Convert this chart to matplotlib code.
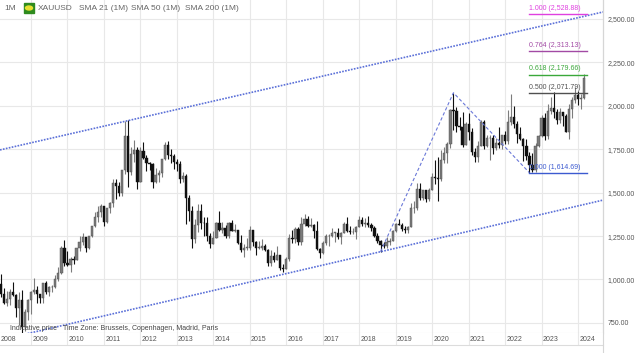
import matplotlib.pyplot as plt
import matplotlib.patches as mpatches
from matplotlib.lines import Line2D
import pandas as pd

plt.rcParams['font.family'] = ['Liberation Sans', 'DejaVu Sans']

# monthly XAUUSD candles, Jan 2008 .. Mar 2024 (one row per year)
opens = [
    834, 924, 972, 916, 864, 886, 928, 913, 834, 880, 724, 815,
    884, 928, 942, 917, 891, 979, 927, 955, 955, 1001, 1040, 1182,
    1097, 1083, 1119, 1113, 1180, 1213, 1244, 1181, 1248, 1307, 1357, 1386,
    1421, 1333, 1410, 1439, 1556, 1536, 1500, 1628, 1826, 1620, 1722, 1746,
    1564, 1737, 1697, 1669, 1664, 1561, 1604, 1614, 1691, 1773, 1719, 1713,
    1675, 1663, 1578, 1595, 1472, 1393, 1234, 1313, 1396, 1326, 1323, 1250,
    1202, 1240, 1326, 1284, 1296, 1250, 1327, 1282, 1287, 1210, 1171, 1182,
    1184, 1283, 1213, 1183, 1184, 1190, 1172, 1095, 1135, 1115, 1142, 1065,
    1061, 1118, 1238, 1234, 1293, 1215, 1322, 1351, 1309, 1316, 1277, 1173,
    1151, 1211, 1249, 1249, 1268, 1268, 1242, 1269, 1322, 1280, 1271, 1275,
    1303, 1345, 1318, 1325, 1315, 1299, 1253, 1224, 1201, 1192, 1215, 1222,
    1282, 1321, 1313, 1292, 1284, 1305, 1409, 1414, 1520, 1472, 1513, 1464,
    1517, 1589, 1585, 1577, 1687, 1730, 1781, 1975, 1968, 1886, 1879, 1776,
    1895, 1848, 1734, 1708, 1769, 1907, 1770, 1814, 1814, 1757, 1783, 1775,
    1829, 1797, 1909, 1937, 1897, 1838, 1807, 1766, 1711, 1660, 1633, 1768,
    1824, 1928, 1827, 1969, 1990, 1962, 1919, 1965, 1940, 1849, 1983, 2036,
    2063, 2039, 2044,
]
highs = [
    934, 975, 1032, 949, 936, 946, 988, 918, 930, 937, 830, 885,
    932, 1007, 962, 917, 980, 990, 960, 966, 1025, 1071, 1195, 1227,
    1162, 1128, 1136, 1181, 1249, 1265, 1244, 1250, 1310, 1388, 1424, 1432,
    1424, 1412, 1447, 1576, 1577, 1561, 1632, 1913, 1921, 1764, 1803, 1764,
    1764, 1791, 1719, 1677, 1668, 1641, 1630, 1692, 1790, 1796, 1754, 1723,
    1694, 1684, 1617, 1606, 1488, 1424, 1348, 1433, 1434, 1361, 1362, 1267,
    1280, 1332, 1392, 1331, 1315, 1332, 1345, 1322, 1287, 1255, 1206, 1238,
    1307, 1285, 1220, 1224, 1232, 1205, 1175, 1170, 1157, 1191, 1142, 1088,
    1128, 1263, 1283, 1304, 1304, 1362, 1375, 1367, 1353, 1317, 1337, 1180,
    1220, 1264, 1261, 1295, 1273, 1296, 1274, 1331, 1357, 1306, 1299, 1307,
    1366, 1361, 1356, 1365, 1326, 1309, 1265, 1226, 1214, 1243, 1237, 1284,
    1326, 1347, 1324, 1310, 1306, 1439, 1453, 1555, 1557, 1517, 1516, 1525,
    1611, 1689, 1704, 1748, 1765, 1789, 1984, 2075, 1992, 1933, 1965, 1906,
    1959, 1875, 1755, 1798, 1916, 1917, 1834, 1832, 1834, 1814, 1877, 1831,
    1853, 1974, 2070, 1998, 1910, 1880, 1814, 1808, 1735, 1730, 1786, 1833,
    1949, 1959, 2009, 2049, 2079, 1984, 1987, 1966, 1953, 2009, 2052, 2110,
    2088, 2065, 2182,
]
lows = [
    832, 882, 900, 857, 850, 856, 906, 786, 740, 681, 705, 765,
    801, 918, 865, 865, 867, 914, 905, 930, 949, 991, 1033, 1075,
    1075, 1045, 1088, 1111, 1165, 1198, 1157, 1175, 1242, 1305, 1330, 1359,
    1309, 1324, 1381, 1418, 1462, 1478, 1478, 1605, 1535, 1600, 1675, 1523,
    1563, 1693, 1627, 1628, 1527, 1553, 1564, 1588, 1689, 1692, 1672, 1635,
    1626, 1555, 1562, 1321, 1338, 1180, 1208, 1271, 1292, 1251, 1221, 1181,
    1202, 1238, 1277, 1268, 1240, 1240, 1281, 1273, 1206, 1161, 1131, 1170,
    1167, 1191, 1142, 1175, 1169, 1162, 1077, 1080, 1098, 1111, 1052, 1046,
    1061, 1107, 1208, 1208, 1199, 1199, 1310, 1302, 1305, 1241, 1171, 1123,
    1147, 1200, 1195, 1244, 1214, 1236, 1205, 1266, 1272, 1261, 1264, 1236,
    1302, 1307, 1303, 1302, 1282, 1246, 1211, 1160, 1180, 1182, 1196, 1221,
    1275, 1311, 1281, 1266, 1266, 1301, 1382, 1400, 1459, 1459, 1446, 1453,
    1517, 1548, 1451, 1567, 1670, 1671, 1757, 1863, 1849, 1860, 1765, 1775,
    1802, 1717, 1677, 1678, 1766, 1750, 1761, 1688, 1721, 1746, 1759, 1753,
    1780, 1781, 1890, 1872, 1787, 1805, 1681, 1688, 1615, 1617, 1616, 1765,
    1823, 1805, 1810, 1950, 1932, 1893, 1903, 1884, 1847, 1810, 1931, 2016,
    2002, 1984, 2039,
]
closes = [
    924, 972, 916, 864, 886, 928, 913, 834, 880, 724, 815, 884,
    928, 942, 917, 891, 979, 927, 955, 955, 1001, 1040, 1182, 1097,
    1083, 1119, 1113, 1180, 1213, 1244, 1181, 1248, 1307, 1357, 1386, 1421,
    1333, 1410, 1439, 1556, 1536, 1500, 1628, 1826, 1620, 1722, 1746, 1564,
    1737, 1697, 1669, 1664, 1561, 1604, 1614, 1691, 1773, 1719, 1713, 1675,
    1663, 1578, 1595, 1472, 1393, 1234, 1313, 1396, 1326, 1323, 1250, 1202,
    1240, 1326, 1284, 1296, 1250, 1327, 1282, 1287, 1210, 1171, 1182, 1184,
    1283, 1213, 1183, 1184, 1190, 1172, 1095, 1135, 1115, 1142, 1065, 1061,
    1118, 1238, 1234, 1293, 1215, 1322, 1351, 1309, 1316, 1277, 1173, 1151,
    1211, 1249, 1249, 1268, 1268, 1242, 1269, 1322, 1280, 1271, 1275, 1303,
    1345, 1318, 1325, 1315, 1299, 1253, 1224, 1201, 1192, 1215, 1222, 1282,
    1321, 1313, 1292, 1284, 1305, 1409, 1414, 1520, 1472, 1513, 1464, 1517,
    1589, 1585, 1577, 1687, 1730, 1781, 1975, 1968, 1886, 1879, 1776, 1895,
    1848, 1734, 1708, 1769, 1907, 1770, 1814, 1814, 1757, 1783, 1775, 1829,
    1797, 1909, 1937, 1897, 1838, 1807, 1766, 1711, 1660, 1633, 1768, 1824,
    1928, 1827, 1969, 1990, 1962, 1919, 1965, 1940, 1849, 1983, 2036, 2063,
    2039, 2044, 2160,
]

price_ticks = [750, 1000, 1250, 1500, 1750, 2000, 2250, 2500]
years = list(range(2008, 2025))

# channel lines (two anchor points each) and fibonacci swing points
upper_line = ([2008.15, 2024.684], [1746, 2540])
lower_line = ([2008.75, 2024.684], [681, 1457])
swing_t = [2018 + 7 / 12, 2020 + 7 / 12, 2022 + 8 / 12]
swing_p = [1160, 2075, 1614.69]
fib_ratios = ['1.000', '0.764', '0.618', '0.500', '0.000']
fib_prices = [2528.88, 2313.13, 2179.66, 2071.79, 1614.69]
fib_colors = ['#e040e0', '#a24aa4', '#3aa83a', '#505050', '#3c5ad0']

dates = pd.date_range('2008-01-01', periods=len(closes), freq='MS')
t = [d.year + (d.month - 1) / 12 for d in dates]

W, H = 635, 353
fig = plt.figure(figsize=(W / 100, H / 100), dpi=100)
ax = fig.add_axes([0, (H - 333) / H, 603 / W, 333 / H])
ax.set_xlim(2008.15, 2024.684)
ax.set_ylim(692, 2609)

ax.set_xticks(years[1:])
ax.set_yticks(price_ticks)
ax.grid(True, color='#e8e8e8', lw=0.8)
ax.set_axisbelow(True)
ax.tick_params(axis='x', length=0, labelbottom=False)
ax.yaxis.tick_right()
ax.tick_params(axis='y', length=0, pad=3, labelsize=5, labelcolor='#555555')
ax.set_yticklabels(['{:,.2f}'.format(p) for p in price_ticks])
for s in ['top', 'left']:
    ax.spines[s].set_visible(False)
ax.spines['right'].set_color('#d6d6d6')
ax.spines['bottom'].set_color('#dcdcdc')

# candles
up_col, dn_col = '#7c7c7c', '#101010'
cols = [up_col if c >= o else dn_col for o, c in zip(opens, closes)]
ax.vlines(t, lows, highs, colors=cols, lw=0.8, zorder=3)
bodies = [max(abs(c - o), 3) for o, c in zip(opens, closes)]
bottoms = [min(o, c) for o, c in zip(opens, closes)]
ax.bar(t, bodies, bottom=bottoms, width=0.062, color=cols,
       edgecolor=['#4a4a4a' if c == up_col else dn_col for c in cols],
       lw=0.3, zorder=4)

# trend channel
for xs, ys in (upper_line, lower_line):
    ax.plot(xs, ys, color='#5b70d8', lw=1.2, linestyle=(0, (1, 0.8)), zorder=5)

# fibonacci anchors
ax.plot(swing_t, swing_p, color='#6a78d8', lw=0.8, linestyle=(0, (3, 2)), zorder=5)

fib_x0, fib_x1 = 2022 + 8 / 12, 2024.245
for r, p, c in zip(fib_ratios, fib_prices, fib_colors):
    ax.plot([fib_x0, fib_x1], [p, p], color=c, lw=1.0, zorder=5)
    ax.text(fib_x0, p + 12, '{} ({:,.2f})'.format(r, p), color=c,
            fontsize=5, ha='left', va='bottom', zorder=6)

# date band under the plot
band = fig.add_axes([0, (H - 345) / H, 603 / W, 12 / H])
band.set_xlim(ax.get_xlim())
band.set_ylim(0, 1)
band.set_xticks([])
band.set_yticks([])
for s in ['top', 'left', 'right']:
    band.spines[s].set_visible(False)
band.spines['bottom'].set_color('#dcdcdc')
px = (2024.684 - 2008.15) / 603
for y in years:
    if y > 2008:
        band.axvline(y, color='#e8e8e8', lw=0.8)
        band.text(y + 1.2 * px, 0.45, str(y), fontsize=5, color='#555555',
                  ha='left', va='center')
band.text(2008.15 + 1 * px, 0.45, '2008', fontsize=5, color='#555555',
          ha='left', va='center')

fig.add_artist(Line2D([603 / W, 603 / W], [0, 1], color='#d6d6d6', lw=0.8))

# header
hy = 1 - 8 / H
fig.text(4 / W, hy, '1M', fontsize=6, color='#666666', va='center')
fig.add_artist(mpatches.Rectangle((24 / W, 1 - 13 / H), 10 / W, 10 / H,
                                  color='#2e8b1e', transform=fig.transFigure))
fig.add_artist(mpatches.Ellipse((29 / W, hy), 7 / W, 4 / H, angle=35,
                                color='#e8e030', transform=fig.transFigure))
for x, s in [(38, 'XAUUSD'), (79, 'SMA 21 (1M)'), (131, 'SMA 50 (1M)'),
             (185, 'SMA 200 (1M)')]:
    fig.text(x / W, hy, s, fontsize=6, color='#666666', va='center')

# footer notes
fig.text(10 / W, 1 - 328 / H, 'Indicative price', fontsize=5, color='#444444',
         va='center')
fig.text(63 / W, 1 - 328 / H, 'Time Zone: Brussels, Copenhagen, Madrid, Paris',
         fontsize=5, color='#444444', va='center')

fig.savefig('out.png', dpi=100)
